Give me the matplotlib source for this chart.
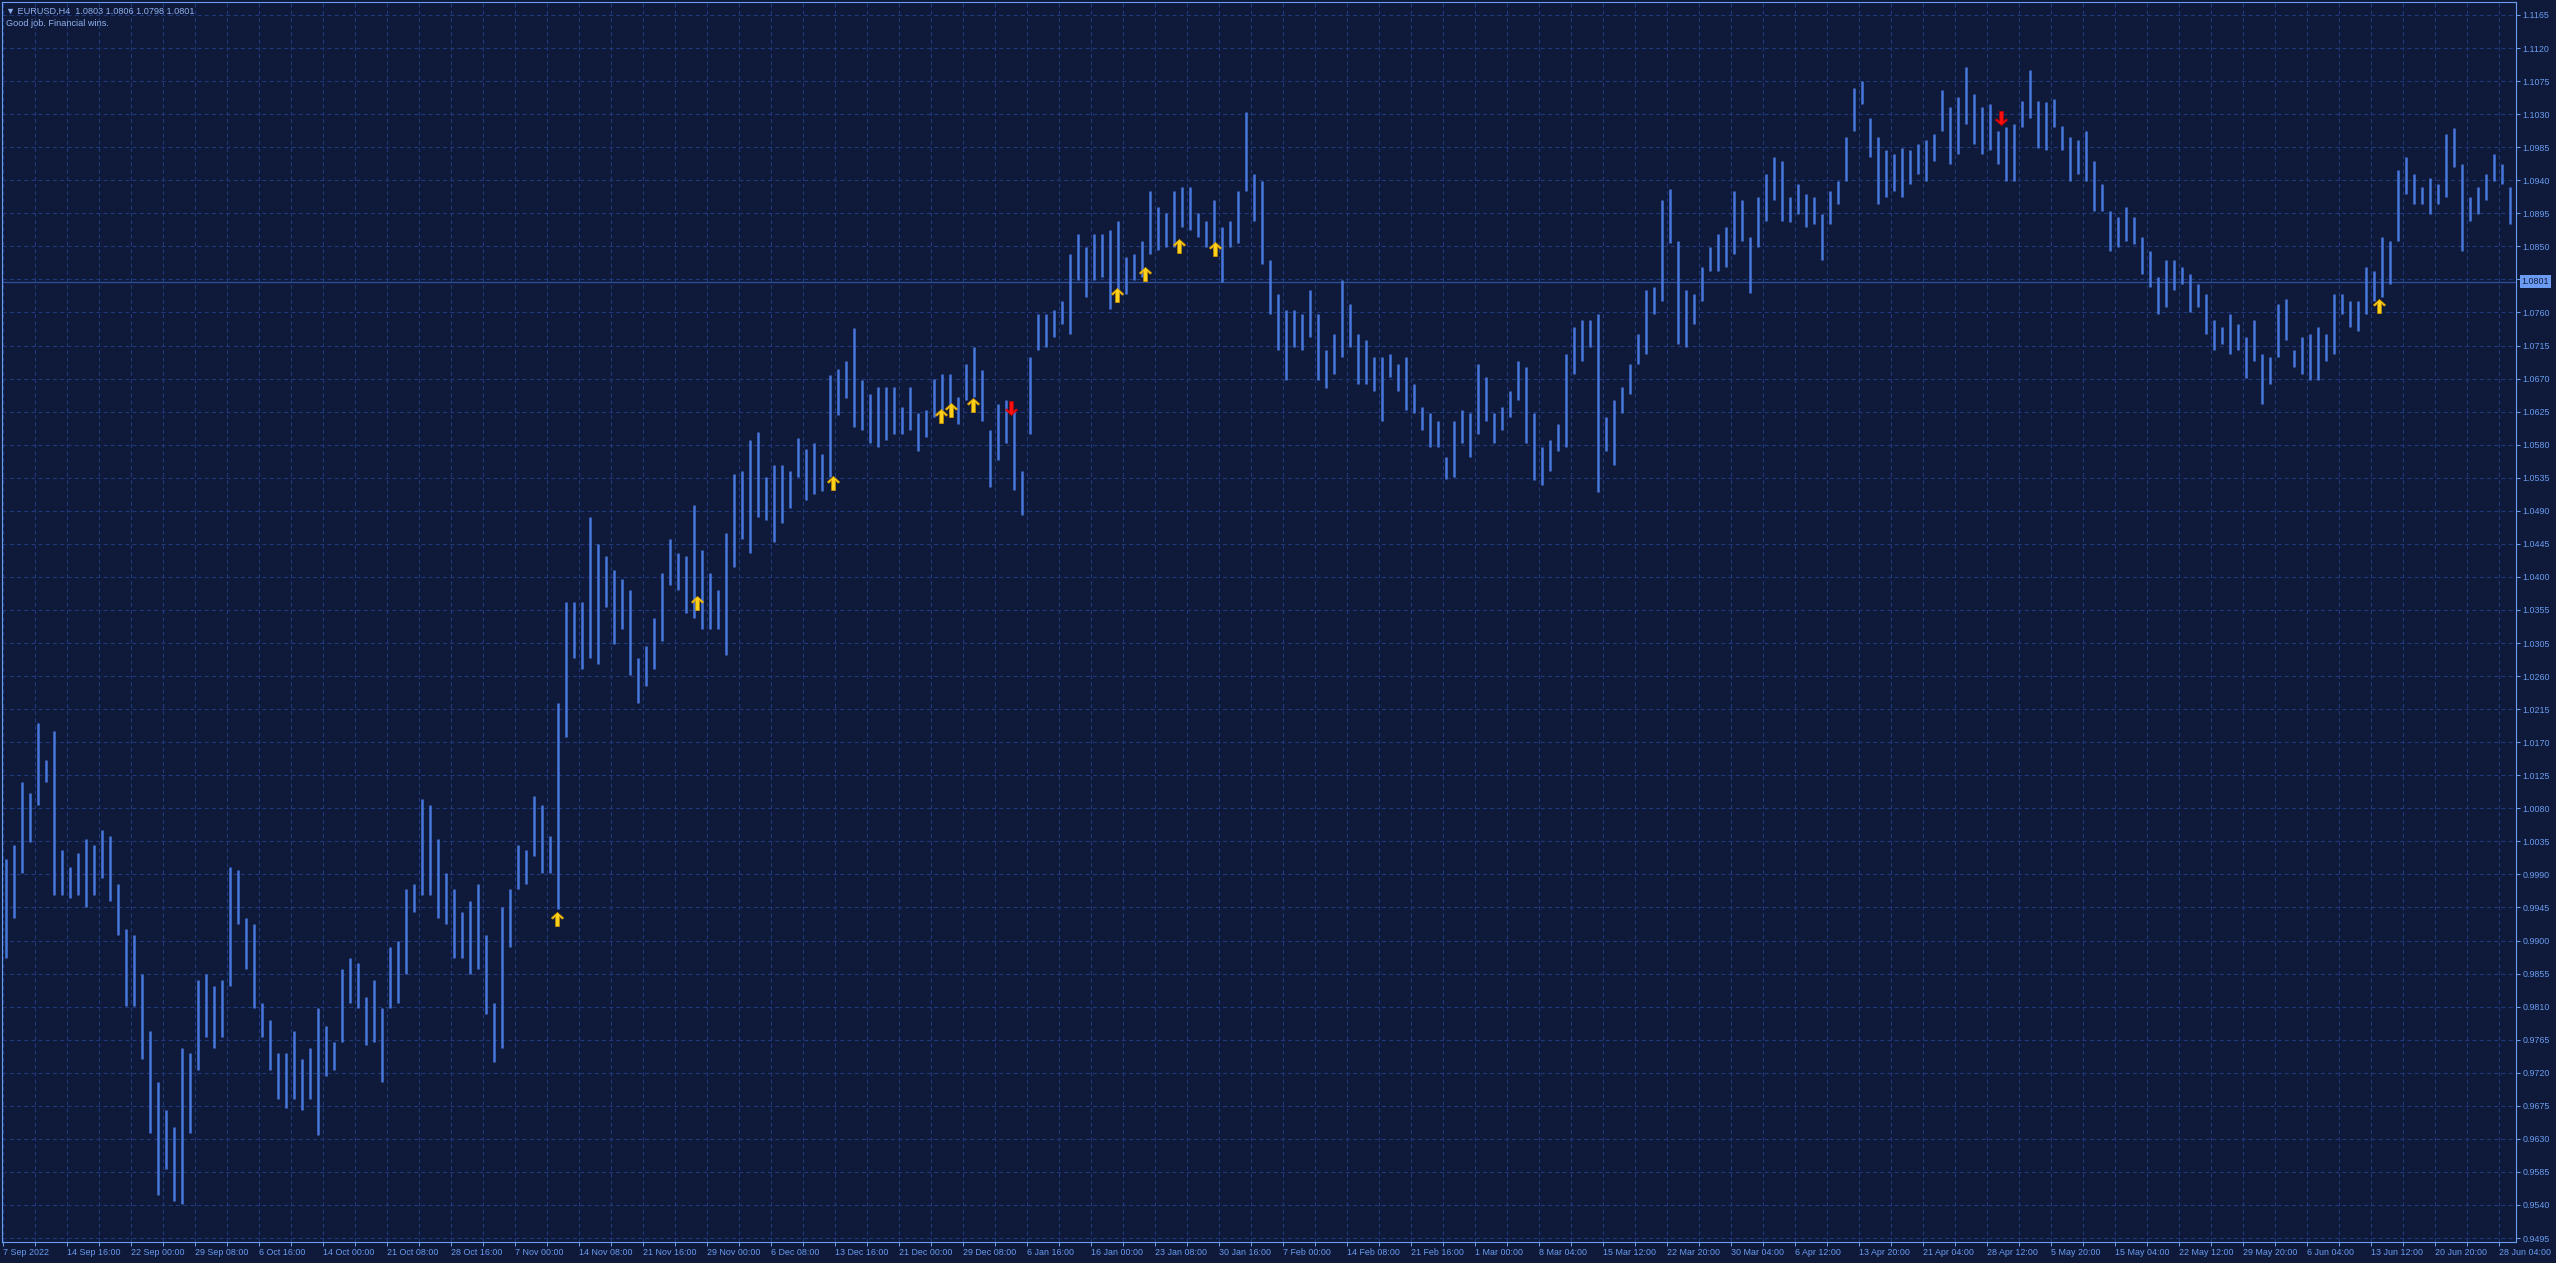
import numpy as np
import matplotlib
matplotlib.use("Agg")
import matplotlib.pyplot as plt
from matplotlib.path import Path

plt.rcParams['font.family'] = ['Liberation Sans', 'DejaVu Sans']
plt.rcParams['lines.scale_dashes'] = False

# ---- data ----
symbol = "EURUSD,H4"
ohlc_now = ["1.0803", "1.0806", "1.0798", "1.0801"]
last_price = 1.0801
comment = "Good job. Financial wins."

bars_per_group = 4   # each entry = high / low of 4 consecutive H4 bars

group_high = [
    1.0013, 1.0032, 1.0117, 1.0102, 1.0198, 1.0148, 1.0187, 1.0025, 1.0002, 1.0021,
    1.0040, 1.0032, 1.0052, 1.0044, 0.9978, 0.9917, 0.9909, 0.9855, 0.9778, 0.9708,
    0.9670, 0.9646, 0.9755, 0.9747, 0.9847, 0.9855, 0.9839, 0.9847, 1.0002, 0.9998,
    0.9932, 0.9924, 0.9816, 0.9793, 0.9747, 0.9747, 0.9778, 0.9739, 0.9755, 0.9809,
    0.9785, 0.9762, 0.9863, 0.9878, 0.9870, 0.9824, 0.9847, 0.9809, 0.9893, 0.9901,
    0.9971, 0.9978, 1.0094, 1.0086, 1.0040, 0.9994, 0.9971, 0.9940, 0.9955, 0.9978,
    0.9909, 0.9816, 0.9947, 0.9971, 1.0032, 1.0025, 1.0098, 1.0086, 1.0044, 1.0225,
    1.0364, 1.0364, 1.0364, 1.0480, 1.0442, 1.0426, 1.0407, 1.0395, 1.0380, 1.0287,
    1.0303, 1.0341, 1.0403, 1.0449, 1.0430, 1.0426, 1.0496, 1.0434, 1.0403, 1.0380,
    1.0457, 1.0538, 1.0542, 1.0584, 1.0596, 1.0534, 1.0550, 1.0550, 1.0542, 1.0588,
    1.0573, 1.0580, 1.0565, 1.0673, 1.0681, 1.0692, 1.0737, 1.0666, 1.0648, 1.0657,
    1.0657, 1.0657, 1.0630, 1.0657, 1.0621, 1.0625, 1.0668, 1.0675, 1.0675, 1.0643,
    1.0689, 1.0712, 1.0680, 1.0598, 1.0634, 1.0639, 1.0625, 1.0543, 1.0698, 1.0757,
    1.0757, 1.0762, 1.0775, 1.0839, 1.0866, 1.0848, 1.0866, 1.0866, 1.0871, 1.0884,
    1.0834, 1.0839, 1.0857, 1.0925, 1.0903, 1.0894, 1.0925, 1.0930, 1.0930, 1.0894,
    1.0884, 1.0912, 1.0875, 1.0884, 1.0925, 1.1032, 1.0948, 1.0939, 1.0830, 1.0784,
    1.0762, 1.0762, 1.0757, 1.0789, 1.0757, 1.0707, 1.0730, 1.0803, 1.0771, 1.0730,
    1.0721, 1.0698, 1.0698, 1.0702, 1.0689, 1.0698, 1.0661, 1.0630, 1.0621, 1.0611,
    1.0561, 1.0611, 1.0625, 1.0621, 1.0689, 1.0671, 1.0621, 1.0630, 1.0652, 1.0693,
    1.0684, 1.0621, 1.0575, 1.0584, 1.0607, 1.0702, 1.0739, 1.0748, 1.0748, 1.0757,
    1.0616, 1.0639, 1.0657, 1.0689, 1.0730, 1.0789, 1.0793, 1.0912, 1.0928, 1.0857,
    1.0789, 1.0784, 1.0821, 1.0848, 1.0866, 1.0875, 1.0925, 1.0912, 1.0862, 1.0916,
    1.0948, 1.0971, 1.0966, 1.0916, 1.0934, 1.0921, 1.0916, 1.0893, 1.0925, 1.0939,
    1.0998, 1.1066, 1.1075, 1.1025, 1.0998, 1.0980, 1.0975, 1.0984, 1.0980, 1.0989,
    1.0994, 1.1003, 1.1062, 1.1039, 1.1053, 1.1094, 1.1057, 1.1039, 1.1044, 1.1007,
    1.1012, 1.1016, 1.1048, 1.1090, 1.1048, 1.1046, 1.1050, 1.1014, 1.0998, 1.0994,
    1.1007, 1.0966, 1.0934, 1.0898, 1.0889, 1.0903, 1.0889, 1.0862, 1.0843, 1.0807,
    1.0830, 1.0830, 1.0821, 1.0812, 1.0798, 1.0784, 1.0748, 1.0739, 1.0757, 1.0743,
    1.0725, 1.0748, 1.0702, 1.0698, 1.0771, 1.0777, 1.0707, 1.0725, 1.0730, 1.0739,
    1.0730, 1.0784, 1.0784, 1.0775, 1.0775, 1.0821, 1.0816, 1.0862, 1.0857, 1.0953,
    1.0971, 1.0948, 1.0930, 1.0943, 1.0934, 1.1003, 1.1011, 1.0962, 1.0916, 1.0930,
    1.0948, 1.0975, 1.0962, 1.0930,
]

group_low = [
    0.9878, 0.9932, 0.9994, 1.0036, 1.0086, 1.0117, 0.9963, 0.9963, 0.9959, 0.9963,
    0.9947, 0.9963, 0.9986, 0.9955, 0.9909, 0.9812, 0.9812, 0.9739, 0.9639, 0.9554,
    0.9589, 0.9546, 0.9542, 0.9639, 0.9724, 0.9770, 0.9755, 0.9770, 0.9839, 0.9924,
    0.9863, 0.9809, 0.9770, 0.9724, 0.9685, 0.9673, 0.9685, 0.9670, 0.9685, 0.9635,
    0.9716, 0.9724, 0.9762, 0.9816, 0.9809, 0.9758, 0.9762, 0.9708, 0.9809, 0.9816,
    0.9855, 0.9940, 0.9963, 0.9963, 0.9932, 0.9924, 0.9878, 0.9878, 0.9855, 0.9863,
    0.9801, 0.9735, 0.9755, 0.9893, 0.9971, 0.9978, 1.0017, 0.9994, 0.9994, 0.9944,
    1.0179, 1.0287, 1.0272, 1.0287, 1.0279, 1.0357, 1.0306, 1.0326, 1.0264, 1.0225,
    1.0249, 1.0272, 1.0310, 1.0387, 1.0380, 1.0349, 1.0341, 1.0326, 1.0326, 1.0326,
    1.0291, 1.0411, 1.0449, 1.0430, 1.0480, 1.0476, 1.0445, 1.0472, 1.0492, 1.0534,
    1.0503, 1.0511, 1.0515, 1.0534, 1.0619, 1.0642, 1.0602, 1.0598, 1.0580, 1.0575,
    1.0584, 1.0593, 1.0593, 1.0598, 1.0570, 1.0589, 1.0616, 1.0625, 1.0621, 1.0607,
    1.0639, 1.0643, 1.0611, 1.0520, 1.0557, 1.0580, 1.0516, 1.0482, 1.0593, 1.0707,
    1.0712, 1.0725, 1.0743, 1.0730, 1.0803, 1.0780, 1.0803, 1.0807, 1.0764, 1.0780,
    1.0784, 1.0803, 1.0807, 1.0839, 1.0844, 1.0848, 1.0848, 1.0875, 1.0871, 1.0862,
    1.0848, 1.0844, 1.0800, 1.0848, 1.0853, 1.0925, 1.0884, 1.0825, 1.0757, 1.0707,
    1.0666, 1.0712, 1.0707, 1.0725, 1.0666, 1.0655, 1.0675, 1.0698, 1.0712, 1.0661,
    1.0661, 1.0652, 1.0611, 1.0671, 1.0652, 1.0625, 1.0621, 1.0598, 1.0575, 1.0575,
    1.0532, 1.0534, 1.0580, 1.0561, 1.0593, 1.0611, 1.0580, 1.0598, 1.0616, 1.0639,
    1.0580, 1.0530, 1.0523, 1.0543, 1.0570, 1.0575, 1.0675, 1.0693, 1.0712, 1.0514,
    1.0570, 1.0550, 1.0621, 1.0648, 1.0689, 1.0702, 1.0757, 1.0775, 1.0853, 1.0716,
    1.0712, 1.0743, 1.0775, 1.0816, 1.0816, 1.0821, 1.0839, 1.0857, 1.0786, 1.0848,
    1.0884, 1.0912, 1.0884, 1.0882, 1.0893, 1.0875, 1.0880, 1.0830, 1.0880, 1.0907,
    1.0939, 1.1007, 1.1044, 1.0971, 1.0907, 1.0916, 1.0925, 1.0916, 1.0934, 1.0948,
    1.0939, 1.0966, 1.1007, 1.0962, 1.0975, 1.1016, 1.0989, 1.0975, 1.0980, 1.0962,
    1.0939, 1.0939, 1.1012, 1.1025, 1.0984, 1.0980, 1.1012, 1.0980, 1.0939, 1.0948,
    1.0939, 1.0898, 1.0898, 1.0843, 1.0848, 1.0857, 1.0852, 1.0812, 1.0793, 1.0757,
    1.0766, 1.0789, 1.0798, 1.0759, 1.0766, 1.0730, 1.0707, 1.0716, 1.0702, 1.0707,
    1.0670, 1.0693, 1.0634, 1.0661, 1.0698, 1.0721, 1.0684, 1.0675, 1.0666, 1.0666,
    1.0693, 1.0702, 1.0757, 1.0739, 1.0734, 1.0757, 1.0775, 1.0780, 1.0798, 1.0857,
    1.0921, 1.0907, 1.0907, 1.0893, 1.0907, 1.0916, 1.0957, 1.0843, 1.0884, 1.0893,
    1.0912, 1.0939, 1.0934, 1.0880,
]

# signal arrows: bar index and price where the arrow is drawn
up_bar = [277, 347, 415, 469, 474, 485, 557, 571, 588, 606, 1188]
up_price = [0.9930, 1.0362, 1.0526, 1.0617, 1.0625, 1.0632, 1.0782, 1.0811, 1.0849, 1.0846, 1.0767]
down_bar = [504, 999]
down_price = [1.0628, 1.1024]

price_labels = [
    "1.1165", "1.1120", "1.1075", "1.1030", "1.0985", "1.0940", "1.0895", "1.0850",
    "1.0805", "1.0760", "1.0715", "1.0670", "1.0625", "1.0580", "1.0535", "1.0490",
    "1.0445", "1.0400", "1.0355", "1.0305", "1.0260", "1.0215", "1.0170", "1.0125",
    "1.0080", "1.0035", "0.9990", "0.9945", "0.9900", "0.9855", "0.9810", "0.9765",
    "0.9720", "0.9675", "0.9630", "0.9585", "0.9540", "0.9495",
]

time_labels = [
    "7 Sep 2022", "14 Sep 16:00", "22 Sep 00:00", "29 Sep 08:00", "6 Oct 16:00",
    "14 Oct 00:00", "21 Oct 08:00", "28 Oct 16:00", "7 Nov 00:00", "14 Nov 08:00",
    "21 Nov 16:00", "29 Nov 00:00", "6 Dec 08:00", "13 Dec 16:00", "21 Dec 00:00",
    "29 Dec 08:00", "6 Jan 16:00", "16 Jan 00:00", "23 Jan 08:00", "30 Jan 16:00",
    "7 Feb 00:00", "14 Feb 08:00", "21 Feb 16:00", "1 Mar 00:00", "8 Mar 04:00",
    "15 Mar 12:00", "22 Mar 20:00", "30 Mar 04:00", "6 Apr 12:00", "13 Apr 20:00",
    "21 Apr 04:00", "28 Apr 12:00", "5 May 20:00", "15 May 04:00", "22 May 12:00",
    "29 May 20:00", "6 Jun 04:00", "13 Jun 12:00", "20 Jun 20:00", "28 Jun 04:00",
]
bars_per_label = 32

# ---- style ----
bg = '#0f1a3b'
grid_c = '#1e3a7c'
bar_c = '#4677da'
frame_c = '#6a9cf0'
text_c = '#6a9cf0'
head_c = '#8fb0ee'
cur_line_c = '#2c4c94'

W, H = 2556, 1263
fig = plt.figure(figsize=(W / 100, H / 100), dpi=100, facecolor=bg)
# plot frame in pixels: x 1.5..2516, y 2..1242 (from top)
ax = fig.add_axes([1.5 / W, (H - 1242) / H, (2516 - 1.5) / W, (1242 - 2) / H])
ax.set_facecolor(bg)

# price scale: label 0 sits at y=15px, last label at y=1238px
p_top, p_bot = 1.1165, 0.9495
px_per_price = (1238 - 15) / (p_top - p_bot)
ax.set_ylim(p_bot - (1242 - 1238) / px_per_price, p_top + (15 - 2) / px_per_price)
# time scale: bar i at x = 3.3 + 2*i px
ax.set_xlim((1.5 - 3.3) / 2, (2516 - 3.3) / 2)

hi = np.array(group_high)
lo = np.array(group_low)
gx = np.arange(len(hi)) * bars_per_group + (bars_per_group - 1) / 2
ax.vlines(gx, lo, hi, colors=bar_c, linewidth=1.8, zorder=3)

# arrows
up_path = Path([(0, 7), (6, 1.5), (4.6, 0.3), (1.8, 3.2), (1.8, -7), (-1.8, -7),
                (-1.8, 3.2), (-4.6, 0.3), (-6, 1.5), (0, 7)],
               [Path.MOVETO] + [Path.LINETO] * 8 + [Path.CLOSEPOLY])
down_path = Path(up_path.vertices * np.array([1, -1]), up_path.codes)
ax.plot(up_bar, up_price, linestyle='none', marker=up_path, markersize=10.2,
        markerfacecolor='#ffd21a', markeredgecolor='#d89a00', markeredgewidth=0.5, zorder=5)
ax.plot(down_bar, down_price, linestyle='none', marker=down_path, markersize=10.2,
        markerfacecolor='#ff1010', markeredgecolor='#c00000', markeredgewidth=0.5, zorder=5)

# current price line
ax.axhline(last_price, color=cur_line_c, linewidth=1.0, zorder=2)

# grid / ticks
ax.set_yticks(np.linspace(p_top, p_bot, len(price_labels)))
ax.set_yticklabels(price_labels)
ax.yaxis.tick_right()
ax.set_xticks(np.arange(len(time_labels)) * bars_per_label)
ax.set_xticklabels(time_labels)
ax.set_xticks(np.arange(0, len(time_labels) * 2 - 1) * bars_per_label / 2, minor=True)
for lab in ax.get_xticklabels():
    lab.set_horizontalalignment('left')
ax.grid(True, which='both', color=grid_c, linestyle=(0, (2.9, 2.3)), linewidth=0.75)
ax.set_axisbelow(True)
ax.tick_params(axis='both', which='both', direction='out', length=3, width=0.75,
               color=frame_c, labelcolor=text_c, labelsize=6.4)
ax.tick_params(axis='x', pad=1.2)
ax.tick_params(axis='y', pad=1.5)
for s in ax.spines.values():
    s.set_color(frame_c)
    s.set_linewidth(0.8)

# current price tag
ax.annotate(f"{last_price:.4f}", xy=(1, last_price), xycoords=('axes fraction', 'data'),
            xytext=(3.8, 0), textcoords='offset points', ha='left', va='center',
            fontsize=6.4, color=bg, annotation_clip=False, zorder=10,
            bbox=dict(boxstyle='square,pad=0.2', fc='#6c9cf2', ec='none'))

# header texts
fig.text(6 / W, 1 - 11 / H, "\u25bc " + symbol + "  " + " ".join(ohlc_now),
         fontsize=6.6, color=head_c, va='center', ha='left')
fig.text(6 / W, 1 - 24 / H, comment, fontsize=6.6, color=head_c, va='center', ha='left')

fig.savefig("out.png", dpi=100, facecolor=bg)
